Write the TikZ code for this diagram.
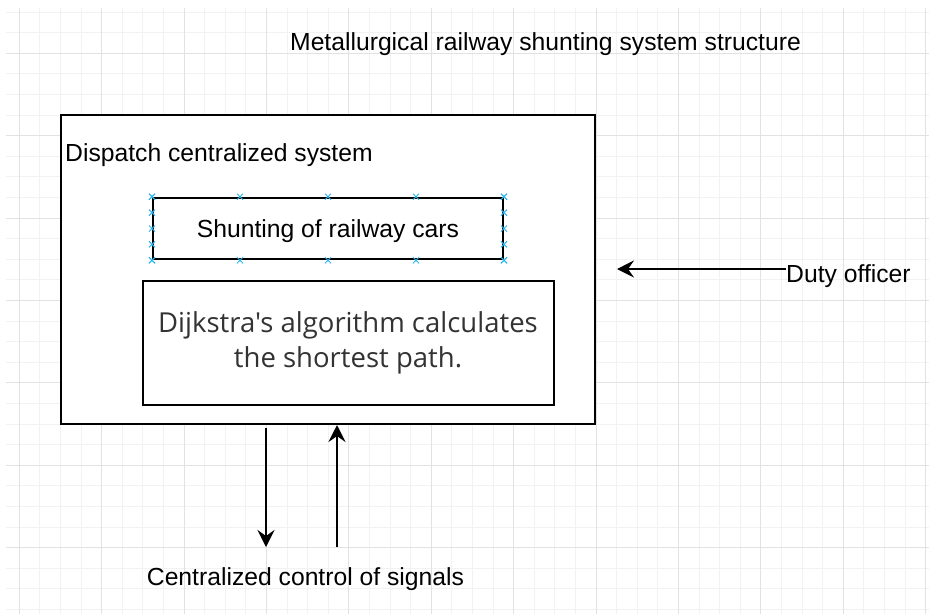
\documentclass[tikz,border=0pt]{standalone}
\usepackage{fontspec}
\setmainfont{Liberation Sans}
\newfontfamily\algofont{Open Sans}
\usetikzlibrary{shapes.misc, arrows.meta, calc}
\definecolor{gridminor}{HTML}{F2F2F2}
\definecolor{gridmajor}{HTML}{E2E2E2}
\definecolor{selblue}{HTML}{29B6F2}
\definecolor{algogray}{HTML}{333333}
\tikzstyle{box} = [rectangle, draw, line width=2pt, fill=white, inner sep=0pt, text centered]
\tikzstyle{txt} = [font=\fontsize{24.7}{29}\selectfont, inner sep=0pt]
\tikzstyle{algo} = [font=\algofont\fontsize{27.5}{35}\selectfont, text=algogray, align=center]
\tikzstyle{xmark} = [cross out, draw=selblue, line width=1pt, minimum size=5pt, inner sep=0pt]
\tikzstyle{arrow} = [line width=2pt, -{Stealth[length=17pt, width=17pt, inset=6pt]}]

\begin{document}
\begin{tikzpicture}[x=1pt, y=-1pt]
            \useasboundingbox (0,0) rectangle (929,614);
            % background grid
            \fill[white] (0,0) rectangle (929,614);
            \foreach \k in {0,...,44}
                \draw[gridminor] ({19+20.6*\k},8) -- ({19+20.6*\k},614);
            \foreach \k in {-2,...,27}
                \draw[gridminor] (6,{53+20.6*\k}) -- (929,{53+20.6*\k});
            \foreach \k in {0,...,11}
                \draw[gridmajor] ({19+82.4*\k},8) -- ({19+82.4*\k},614);
            \foreach \k in {0,...,6}
                \draw[gridmajor] (6,{53+82.4*\k}) -- (929,{53+82.4*\k});

            \node [txt, anchor=base] at (545.5,50) (title) {Metallurgical railway shunting system structure};
            \node [box, minimum width=534, minimum height=309] at (328,269.5) (dispatch) {};
            \node [txt, anchor=base west] at (65,161) (dispatchname) {Dispatch centralized system};
            \node [box, txt, line width=2pt, text depth=0pt, minimum width=350, minimum height=61.5] at (328,228.5) (shunting) {Shunting of railway cars};
            \node [box, algo, minimum width=411, minimum height=124] at (348,343) (dijkstra) {Dijkstra's algorithm calculates\\the shortest path.};
            \node [txt, anchor=base west] at (786,282) (duty) {Duty officer};
            \node [txt, anchor=base] at (305.5,585) (signals) {Centralized control of signals};

            % selection marks
            \foreach \f in {0,0.25,0.5,0.75,1} {
                \node [xmark] at ($(shunting.north west)!\f!(shunting.north east)$) {};
                \node [xmark] at ($(shunting.south west)!\f!(shunting.south east)$) {};
                \node [xmark] at ($(shunting.north west)!\f!(shunting.south west)$) {};
                \node [xmark] at ($(shunting.north east)!\f!(shunting.south east)$) {};
            }

            \coordinate (dutytip) at (617,269);
            \coordinate (downstart) at (266,428);
            \coordinate (downend) at (266,547);
            \coordinate (upstart) at (337,547);
            \draw [arrow] (duty.west |- dutytip) -- (dutytip);
            \draw [arrow] (downstart) -- (downend);
            \draw [arrow] (upstart) -- (dispatch.south -| upstart);
\end{tikzpicture}
\end{document}
